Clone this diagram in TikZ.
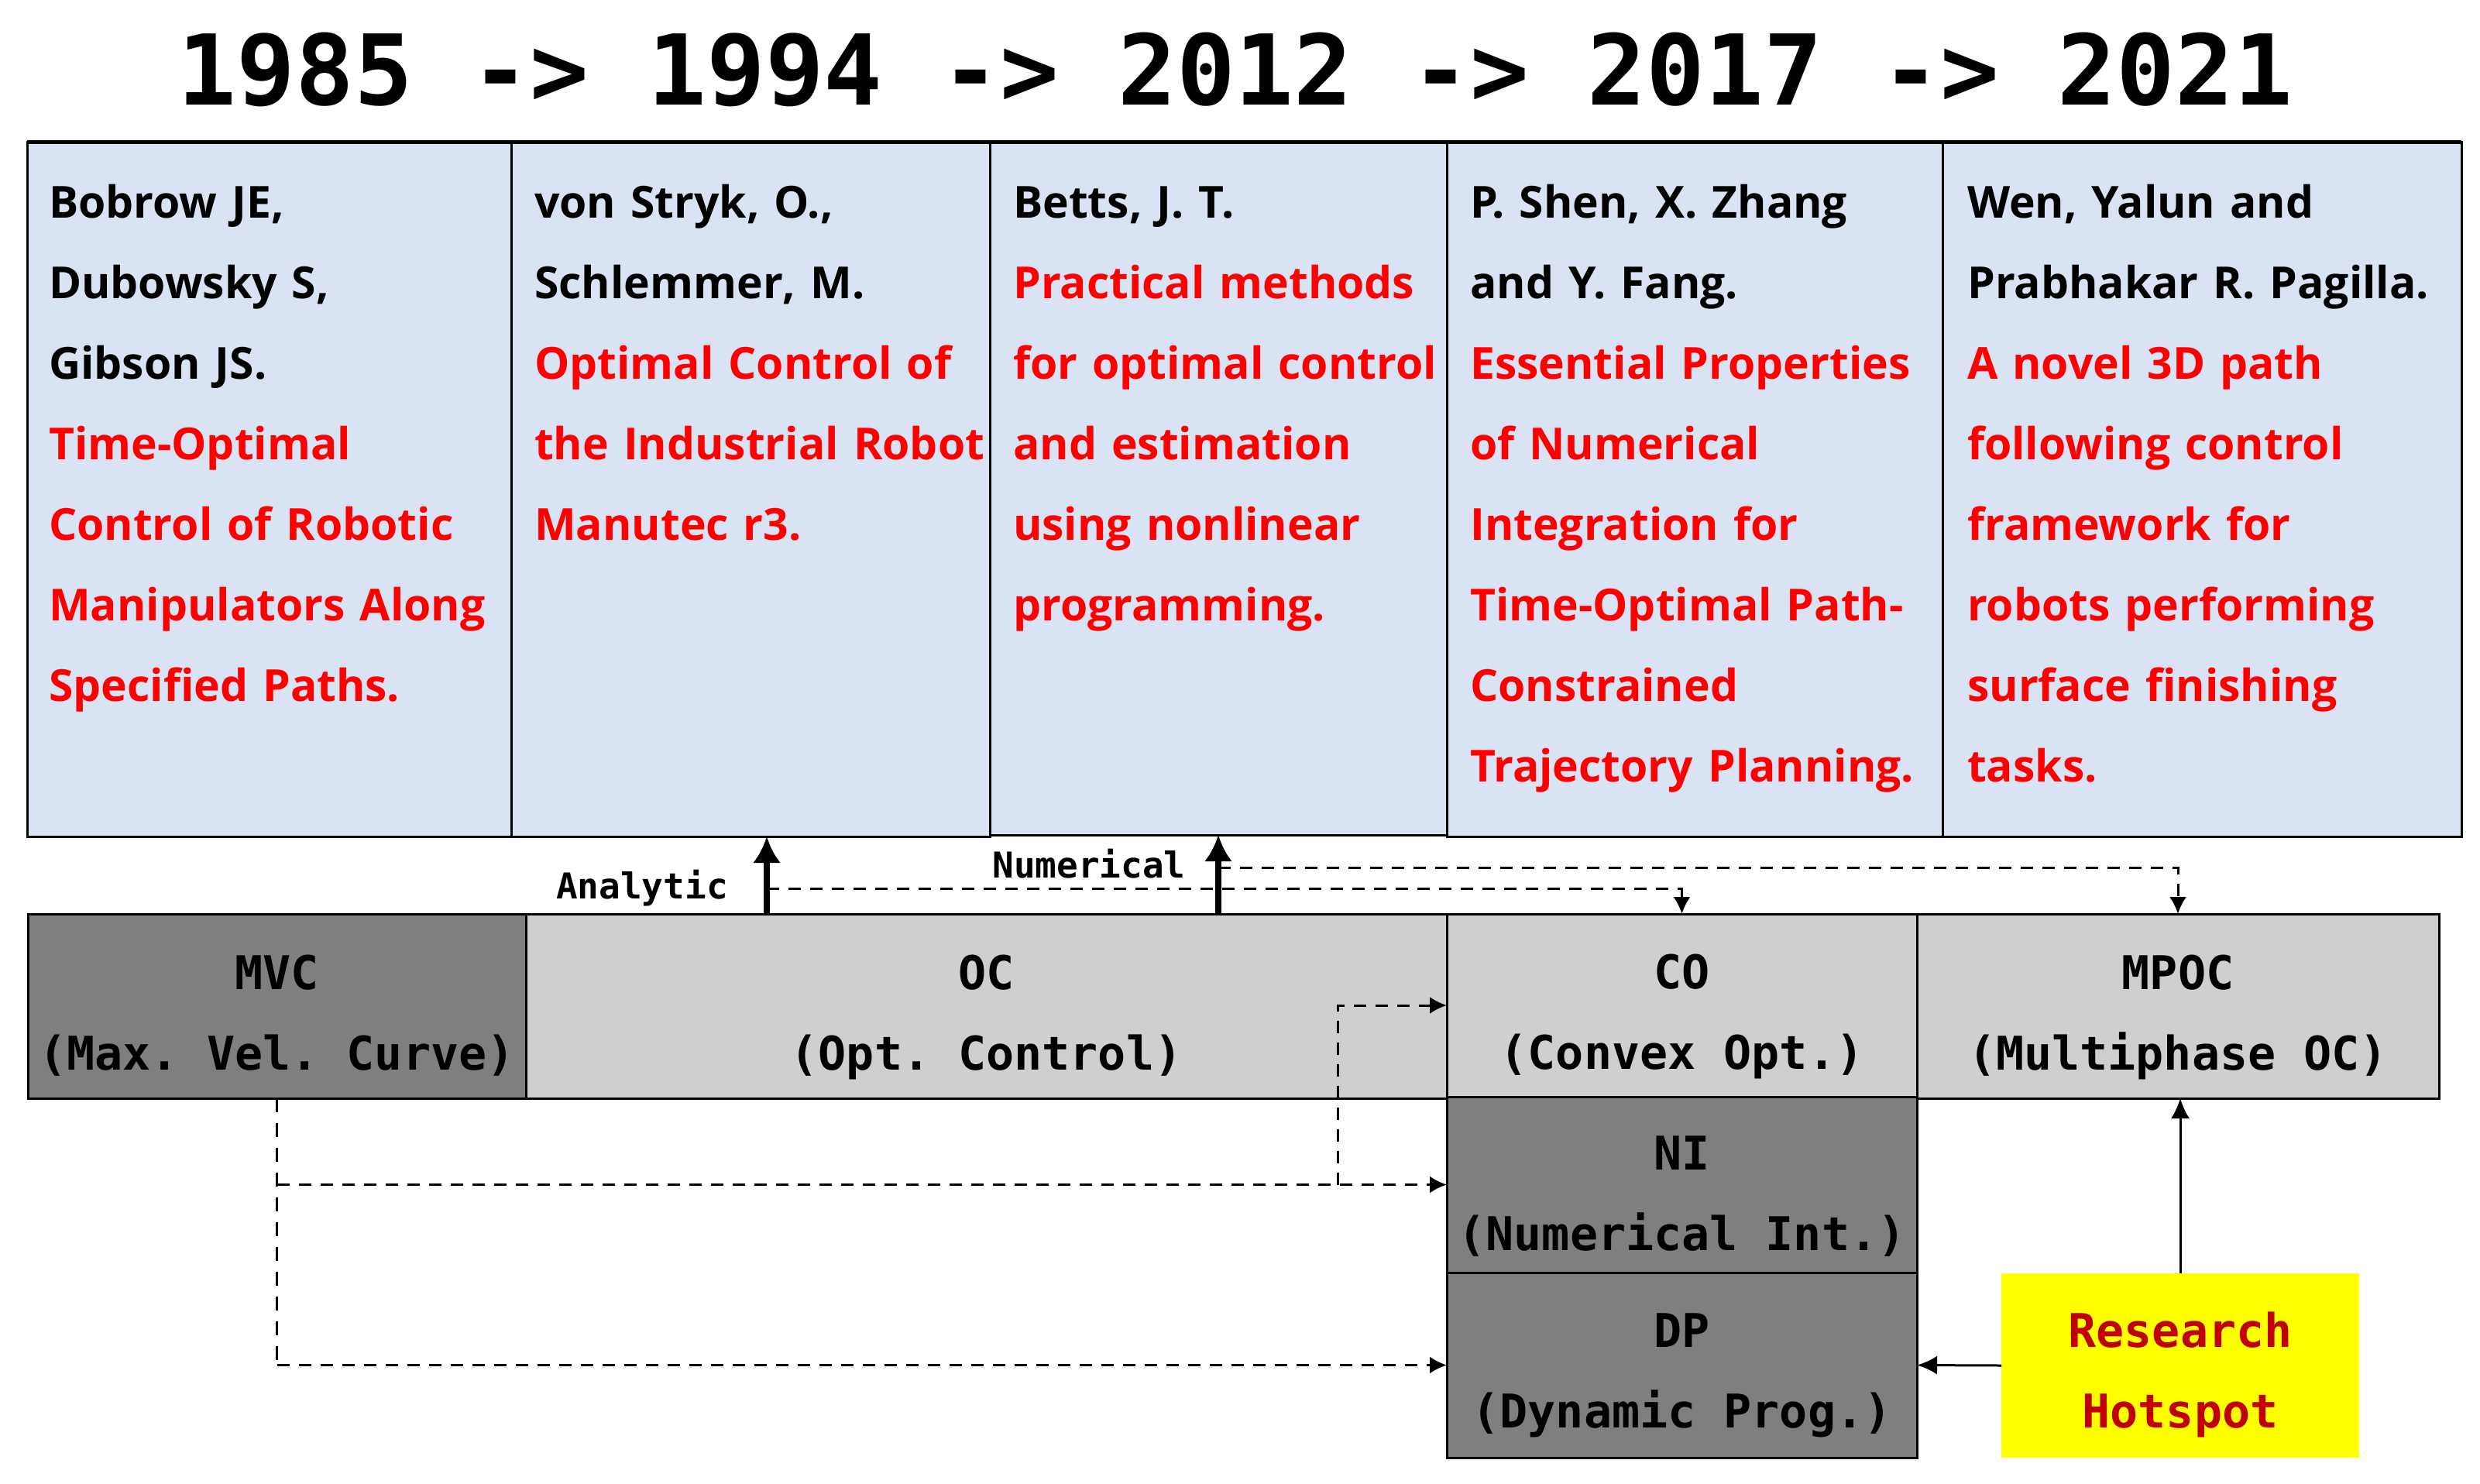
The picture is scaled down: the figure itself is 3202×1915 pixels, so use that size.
\documentclass[tikz,border=0pt]{standalone}
\usepackage{fontspec}
\setmainfont{Open Sans}
\setmonofont{DejaVu Sans Mono}
\usetikzlibrary{arrows.meta}
\definecolor{paperblue}{HTML}{DAE3F3}
\definecolor{paperred}{HTML}{FF0000}
\definecolor{darkgraybox}{HTML}{7F7F7F}
\definecolor{lightgraybox}{HTML}{D0CECE}
\definecolor{hotyellow}{HTML}{FFFF00}
\definecolor{hotred}{HTML}{C00000}
\begin{document}
\begin{tikzpicture}[x=1pt,y=-1pt,
  paperbox/.style={draw=black, line width=3pt, fill=paperblue, inner sep=0pt, outer sep=0pt, anchor=north west, minimum height=897pt},
  papertext/.style={anchor=base west, inner sep=0pt, text width=800pt, align=left, font=\fontsize{57}{104}\selectfont\bfseries},
  methbox/.style={draw=black, line width=3pt, inner sep=0pt, outer sep=0pt, anchor=north west},
  methtext/.style={anchor=base, inner sep=0pt, text width=700pt, align=flush center, font=\fontsize{60}{104}\selectfont\ttfamily\bfseries\frenchspacing},
  sidelabel/.style={anchor=base, inner sep=0pt, font=\fontsize{46}{46}\selectfont\ttfamily\bfseries},
  bigarrow/.style={line width=8pt, -{Latex[length=34pt,width=36pt]}},
  dasharrow/.style={line width=3pt, dash pattern=on 16pt off 12pt, -{Latex[length=22pt,width=22pt]}},
  dashline/.style={line width=2.5pt, dash pattern=on 18pt off 14pt},
  solidarrow/.style={line width=3pt, -{Latex[length=26pt,width=24pt]}}
]
\useasboundingbox[fill=white] (0,0) rectangle (3202,1915);

% title
\node[anchor=base, inner sep=0pt, font=\fontsize{126}{126}\selectfont\ttfamily\bfseries] (title) at (1595,135) {1985 -> 1994 -> 2012 -> 2017 -> 2021};

% paper boxes
\node[paperbox, minimum width=625pt] (p1) at (35,183) {};
\node[paperbox, minimum width=618pt] (p2) at (660,183) {};
\node[paperbox, minimum width=590pt, minimum height=895pt] (p3) at (1278,183) {};
\node[paperbox, minimum width=640pt] (p4) at (1868,183) {};
\node[paperbox, minimum width=670pt] (p5) at (2508,183) {};
\draw[line width=5pt] (p1.north west) -- (p5.north east);

\node[papertext] (t1) at (63,281) {Bobrow JE,\\Dubowsky S,\\Gibson JS.\\\color{paperred}Time-Optimal\\Control of Robotic\\Manipulators Along\\Specified Paths.};
\node[papertext] (t2) at (690,281) {von Stryk, O.,\\Schlemmer, M.\\\color{paperred}Optimal Control of\\the Industrial Robot\\Manutec r3.};
\node[papertext] (t3) at (1308,281) {Betts, J. T.\\\color{paperred}Practical methods\\for optimal control\\and estimation\\using nonlinear\\programming.};
\node[papertext] (t4) at (1898,281) {P. Shen, X. Zhang\\and Y. Fang.\\\color{paperred}Essential Properties\\of Numerical\\Integration for\\Time-Optimal Path-\\Constrained\\Trajectory Planning.};
\node[papertext] (t5) at (2540,281) {Wen, Yalun and\\Prabhakar R. Pagilla.\\\color{paperred}A novel 3D path\\following control\\framework for\\robots performing\\surface finishing\\tasks.};

% method boxes
\node[methbox, fill=darkgraybox, minimum width=643pt, minimum height=238pt] (mvc) at (36,1180) {};
\node[methbox, fill=lightgraybox, minimum width=1189pt, minimum height=238pt] (oc) at (679,1180) {};
\node[methbox, fill=lightgraybox, minimum width=607pt, minimum height=236pt] (co) at (1868,1180) {};
\node[methbox, fill=lightgraybox, minimum width=674pt, minimum height=238pt] (mpoc) at (2475,1180) {};
\node[methbox, fill=darkgraybox, minimum width=607pt, minimum height=227pt] (ni) at (1868,1416) {};
\node[methbox, fill=darkgraybox, minimum width=607pt, minimum height=239pt] (dp) at (1868,1643) {};
\node[inner sep=0pt, outer sep=0pt, anchor=north west, fill=hotyellow, minimum width=462pt, minimum height=238pt] (hot) at (2584,1644) {};

\node[methtext] (lmvc) at ([yshift=22pt]mvc.center) {MVC\\(Max. Vel. Curve)};
\node[methtext] (loc) at ([yshift=22pt]oc.center) {OC\\(Opt. Control)};
\node[methtext] (lco) at ([yshift=22pt]co.center) {CO\\(Convex Opt.)};
\node[methtext] (lmpoc) at ([yshift=22pt]mpoc.center) {MPOC\\(Multiphase OC)};
\node[methtext] (lni) at ([yshift=19pt]ni.center) {NI\\(Numerical Int.)};
\node[methtext] (ldp) at ([yshift=23pt]dp.center) {DP\\(Dynamic Prog.)};
\node[methtext, text=hotred] (lhot) at ([yshift=24pt]hot.center) {Research\\Hotspot};

% analytic / numerical
\coordinate (anfoot) at (990,1180);
\coordinate (anbranch) at (990,1147);
\coordinate (nufoot) at (1573,1180);
\coordinate (nubranch) at (1573,1120);
\coordinate (cobranch) at (1727,0);

\node[sidelabel] (lana) at (829,1160) {Analytic};
\node[sidelabel] (lnum) at (1406,1133) {Numerical};

\draw[dasharrow] (anbranch) -| (co.north);
\draw[dasharrow] (nubranch) -| (mpoc.north);
\draw[bigarrow] (anfoot) -- (anfoot |- p2.south);
\draw[bigarrow] (nufoot) -- (nufoot |- p3.south);

% MVC dashed connectors
\draw[dashline] (mvc.south) -- (mvc.south |- dp.west);
\draw[dasharrow] (mvc.south |- ni.west) -- (ni.west);
\draw[dasharrow] (mvc.south |- dp.west) -- (dp.west);
\draw[dasharrow] (cobranch |- ni.west) |- (co.west);

% hotspot connectors
\draw[solidarrow] (hot.north) -- (hot.north |- mpoc.south);
\draw[solidarrow] (hot.west) -- (dp.east);
\end{tikzpicture}
\end{document}
